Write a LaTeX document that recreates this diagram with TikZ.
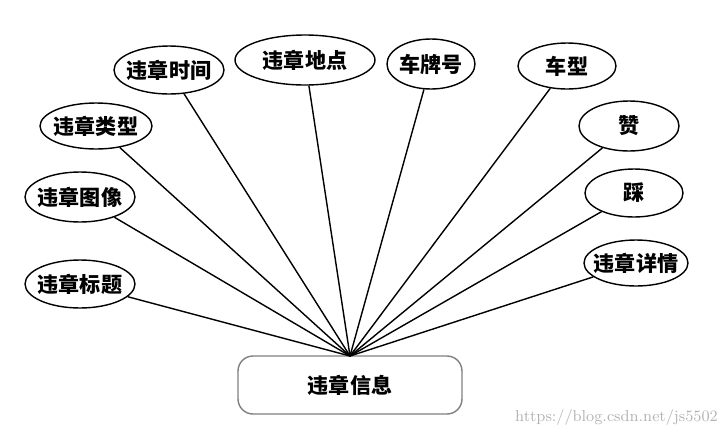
\documentclass[tikz,border=0pt]{standalone}
\usepackage{fontspec}
\usetikzlibrary{shapes.geometric}
\newfontfamily\cjk{Noto Sans CJK SC}
\tikzset{attr/.style={draw,ellipse,thick,inner xsep=-0.4cm,inner ysep=0pt,font=\cjk\bfseries\large}}
\begin{document}
\begin{tikzpicture}[x=0.02cm,y=-0.02cm]
		\useasboundingbox (0,0) rectangle (728,437);
		\node[attr,minimum width=2.2cm,minimum height=0.96cm] (time) at (169,70) {违章时间};
		\node[attr,minimum width=2.8cm,minimum height=1cm] (place) at (305,60) {违章地点};
		\node[attr,minimum width=1.76cm,minimum height=1cm] (plate) at (431,64) {车牌号};
		\node[attr,minimum width=1.96cm,minimum height=0.92cm] (model) at (567,66) {车型};
		\node[attr,minimum width=2.24cm,minimum height=0.92cm] (type) at (96,126) {违章类型};
		\node[attr,minimum width=2cm,minimum height=1cm] (like) at (629,126) {赞};
		\node[attr,minimum width=2.2cm,minimum height=1cm] (image) at (80,197) {违章图像};
		\node[attr,minimum width=1.96cm,minimum height=0.96cm] (dislike) at (634,193) {踩};
		\node[attr,minimum width=2.2cm,minimum height=0.96cm] (title) at (80,284) {违章标题};
		\node[attr,minimum width=2.08cm,minimum height=0.92cm] (detail) at (636,263) {违章详情};
		\node[draw=gray,thick,rounded corners=0.3cm,minimum width=4.48cm,minimum height=1.16cm,font=\cjk\bfseries\large] (info) at (350,385) {违章信息};
		\coordinate (hub) at (350,356);
		%
		\foreach \n in {time,place,plate,model,type,like,image,dislike,title,detail}
			\draw[thick] (\n) -- (hub);
		\node[text=gray!60,font=\small,anchor=east] (mark) at (724,418) {https://blog.csdn.net/js5502};
\end{tikzpicture}
\end{document}
